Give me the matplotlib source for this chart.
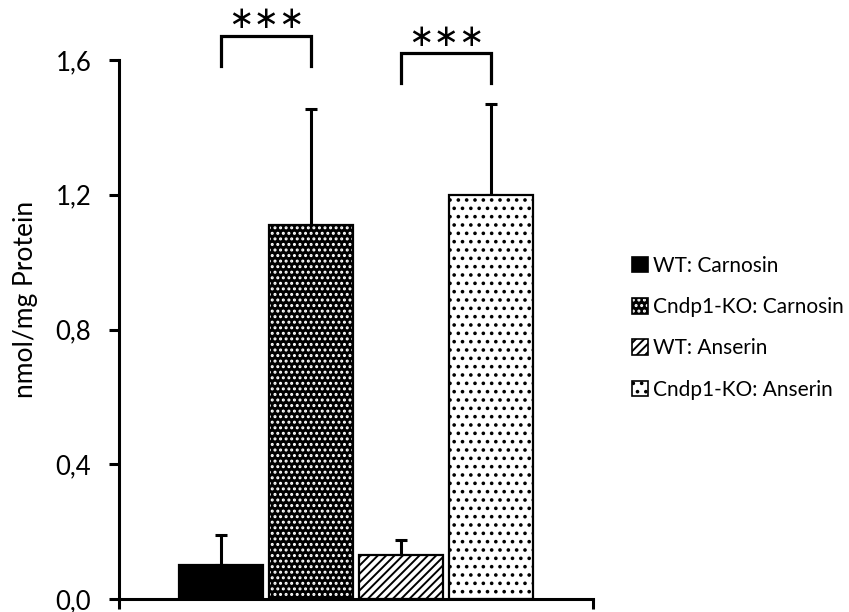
import matplotlib
matplotlib.use("Agg")
import matplotlib.pyplot as plt
from matplotlib.patches import Patch
from matplotlib.legend_handler import HandlerTuple

plt.rcParams["font.family"] = ["Lato", "DejaVu Sans"]
plt.rcParams["hatch.linewidth"] = 1.4

groups = ["WT: Carnosin", "Cndp1-KO: Carnosin", "WT: Anserin", "Cndp1-KO: Anserin"]
means = [0.10, 1.11, 0.13, 1.20]
sd_upper = [0.09, 0.345, 0.045, 0.27]
yticks = [0.0, 0.4, 0.8, 1.2, 1.6]
ytick_labels = ["0,0", "0,4", "0,8", "1,2", "1,6"]
# significance brackets: (bar a, bar b, label)
sig_pairs = [(0, 1, "\u2217\u2217\u2217"), (2, 3, "\u2217\u2217\u2217")]

# (face colour, hatch colour, hatch)
styles = [
    ("black", "black", None),
    ("black", "white", "..."),
    ("white", "black", "////"),
    ("white", "black", ".."),
]

fig = plt.figure(figsize=(8.49, 6.12), dpi=100)
ax = fig.add_axes([0.1402, 0.0212, 0.5583, 0.8808])

x = list(range(len(groups)))
width = 0.933
handles = []
for i, (fc, hc, hatch) in enumerate(styles):
    # fill layer carries the hatch colour via its edgecolor
    ax.bar(x[i], means[i], width, color=fc, edgecolor=hc, hatch=hatch, linewidth=0, zorder=2)
    ax.bar(x[i], means[i], width, fill=False, edgecolor="black", linewidth=1.6, zorder=3)
    fill_h = Patch(facecolor=fc, edgecolor=hc, hatch=hatch, linewidth=0)
    edge_h = Patch(fill=False, edgecolor="black", linewidth=1.2)
    handles.append((fill_h, edge_h))

ax.errorbar(x, means, yerr=[[0] * len(means), sd_upper], fmt="none", ecolor="black",
            elinewidth=2.2, capsize=4.5, capthick=2.2, zorder=1)

bracket_y = [(1.671, 1.582, 1.719), (1.621, 1.532, 1.668)]
for (a, b, lab), (top, bot, ty) in zip(sig_pairs, bracket_y):
    ax.plot([a, a, b, b], [bot, top, top, bot], color="black", lw=2.3,
            clip_on=False, solid_joinstyle="miter")
    ax.text((a + b) / 2, ty, lab, ha="center", va="center", fontsize=22,
            family="DejaVu Sans", clip_on=False)

ax.set_xlim(-1.133, 4.133)
ax.set_ylim(0, 1.6)
ax.set_yticks(yticks)
ax.set_yticklabels(ytick_labels, fontsize=18.5)
ax.set_xticks([-1.133, 4.133])
ax.set_xticklabels([])
ax.tick_params(axis="both", direction="out", length=7, width=2.2)
ax.tick_params(axis="y", pad=13)
for side in ["top", "right"]:
    ax.spines[side].set_visible(False)
for side in ["left", "bottom"]:
    ax.spines[side].set_linewidth(2.2)
ax.set_ylabel("nmol/mg Protein", fontsize=19)
ax.yaxis.set_label_coords(-0.171, 0.555)

fig.legend(handles, groups, handler_map={tuple: HandlerTuple(ndivide=1)},
           loc="upper left", bbox_to_anchor=(0.735, 0.596), frameon=False,
           fontsize=15, handlelength=0.77, handleheight=0.77, handletextpad=0.2,
           labelspacing=1.03, borderaxespad=0)

fig.savefig("out.png", dpi=100)
